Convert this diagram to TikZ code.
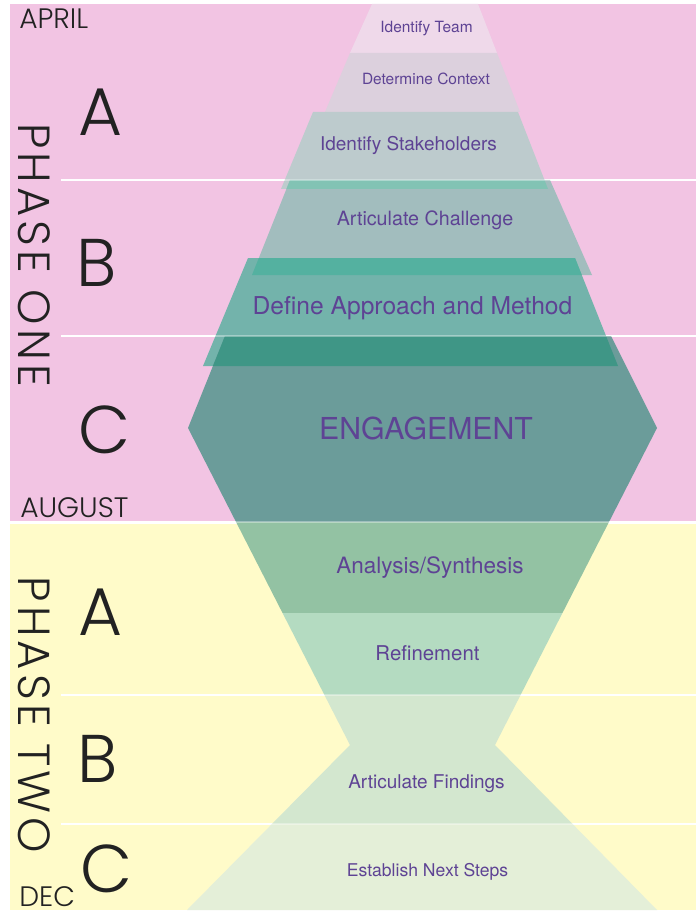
\documentclass[tikz,border=0pt]{standalone}
\usepackage{fontspec}
\setmainfont{TeX Gyre Heros}
\newfontfamily\geofont{Poppins Light}
\usepackage{xcolor}

% backgrounds
\definecolor{phasepink}{HTML}{F2C4E3}
\definecolor{phaseyellow}{HTML}{FFFBC9}
% funnel layers
\definecolor{teamfill}{HTML}{EFD9EA}
\definecolor{contextfill}{HTML}{DCD0DD}
\definecolor{stakefill}{HTML}{BDCBCD}
\definecolor{challengefill}{HTML}{A2BDBE}
\definecolor{approachfill}{HTML}{73B3AB}
\definecolor{engagefill}{HTML}{6B9C9A}
\definecolor{analysisfill}{HTML}{93C2A3}
\definecolor{refinefill}{HTML}{B4DBC1}
\definecolor{findingsfill}{HTML}{D3E7CF}
\definecolor{nextfill}{HTML}{E4EFD8}
% where two layers overlap
\definecolor{overlapA}{HTML}{82C3B4}
\definecolor{overlapB}{HTML}{54B1A0}
\definecolor{overlapC}{HTML}{3F9686}
% text
\definecolor{labelpurple}{HTML}{5E4394}
\definecolor{inkgray}{HTML}{222222}

\begin{document}
\begin{tikzpicture}[
  x=0.025cm, y=-0.025cm,
  stage/.style={text=labelpurple, inner sep=0pt, anchor=base},
  month/.style={font=\geofont\fontsize{20}{24}\selectfont, text=inkgray, anchor=base west, inner sep=0pt},
  letter/.style={font=\geofont\fontsize{48}{50}\selectfont, text=inkgray, inner sep=0pt},
  phase/.style={font=\geofont\fontsize{32}{34}\selectfont\addfontfeature{LetterSpace=9},
    text=inkgray, rotate=-90, inner sep=0pt},
  rule/.style={white, line width=1.4pt},
  faintrule/.style={white, line width=1.2pt, opacity=0.35}
]
\path[use as bounding box, fill=white] (0,0) rectangle (696,912);

% the two phases
\fill[phasepink] (10,4) rectangle (696,521);
\fill[phaseyellow] (10,524) rectangle (696,910);
\foreach \y in {180,336,695,824}
  \draw[rule] (61,\y) -- (696,\y);

% phase one: stacked trapezoids
\fill[teamfill] (372,4) -- (478,4) -- (497,53) -- (350,53) -- cycle;
\fill[contextfill] (350,53) -- (497,53) -- (520,112) -- (325,112) -- cycle;
\fill[stakefill] (313,112) -- (518,112) -- (548,189) -- (281,189) -- cycle;
\fill[challengefill] (290,180) -- (550,180) -- (592,275) -- (252,275) -- cycle;
\fill[approachfill] (248,258) -- (575,258) -- (618,366) -- (203,366) -- cycle;

\begin{scope}
  \clip (313,112) -- (518,112) -- (548,189) -- (281,189) -- cycle;
  \fill[overlapA] (290,180) -- (550,180) -- (592,275) -- (252,275) -- cycle;
\end{scope}
\begin{scope}
  \clip (290,180) -- (550,180) -- (592,275) -- (252,275) -- cycle;
  \fill[overlapB] (248,258) -- (575,258) -- (618,366) -- (203,366) -- cycle;
\end{scope}

% engagement hexagon running into the hourglass
\begin{scope}
  \clip (225,336) -- (611,336) -- (657,428) -- (495,745) -- (657,910)
     -- (187,910) -- (350,745) -- (188,428) -- cycle;
  \fill[engagefill] (0,336) rectangle (696,522);
  \fill[analysisfill] (0,522) rectangle (696,613);
  \fill[refinefill] (0,613) rectangle (696,695);
  \fill[findingsfill] (0,695) rectangle (696,824);
  \fill[nextfill] (0,824) rectangle (696,912);
  \fill[overlapC] (248,258) -- (575,258) -- (618,366) -- (203,366) -- cycle;
\end{scope}
\foreach \y in {180,336,522,695,824}
  \draw[faintrule] (180,\y) -- (660,\y);

% stage labels (placed on their baselines)
\node[stage, font=\fontsize{11}{13}\selectfont] (team) at (426.5,33) {Identify Team};
\node[stage, font=\fontsize{11}{13}\selectfont] (context) at (426,85) {Determine Context};
\node[stage, font=\fontsize{13.5}{16}\selectfont] (stake) at (408.5,151) {Identify Stakeholders};
\node[stage, font=\fontsize{14}{16}\selectfont] (challenge) at (425,226) {Articulate Challenge};
\node[stage, font=\fontsize{17.5}{20}\selectfont] (approach) at (412.5,314) {Define Approach and Method};
\node[stage, font=\fontsize{21.5}{24}\selectfont] (engage) at (426,439) {ENGAGEMENT};
\node[stage, font=\fontsize{16}{19}\selectfont] (analysis) at (430,573) {Analysis/Synthesis};
\node[stage, font=\fontsize{14.5}{17}\selectfont] (refine) at (427.5,660) {Refinement};
\node[stage, font=\fontsize{13.5}{16}\selectfont] (findings) at (426.5,788) {Articulate Findings};
\node[stage, font=\fontsize{12.5}{15}\selectfont] (next) at (427.5,876) {Establish Next Steps};

% months, phases and sub-phase letters
\node[month] (april) at (19,29) {APRIL};
\node[month] (august) at (20,517) {AUGUST};
\node[month] (dec) at (19,906) {DEC};
\node[phase] (one) at (34,255) {PHASE ONE};
\node[phase] (two) at (34,715) {PHASE TWO};
\node[letter] (oneA) at (101,112) {A};
\node[letter] (oneB) at (97,263) {B};
\node[letter] (oneC) at (105,430) {C};
\node[letter] (twoA) at (101,612) {A};
\node[letter] (twoB) at (98,759) {B};
\node[letter] (twoC) at (107,869) {C};
\end{tikzpicture}
\end{document}
